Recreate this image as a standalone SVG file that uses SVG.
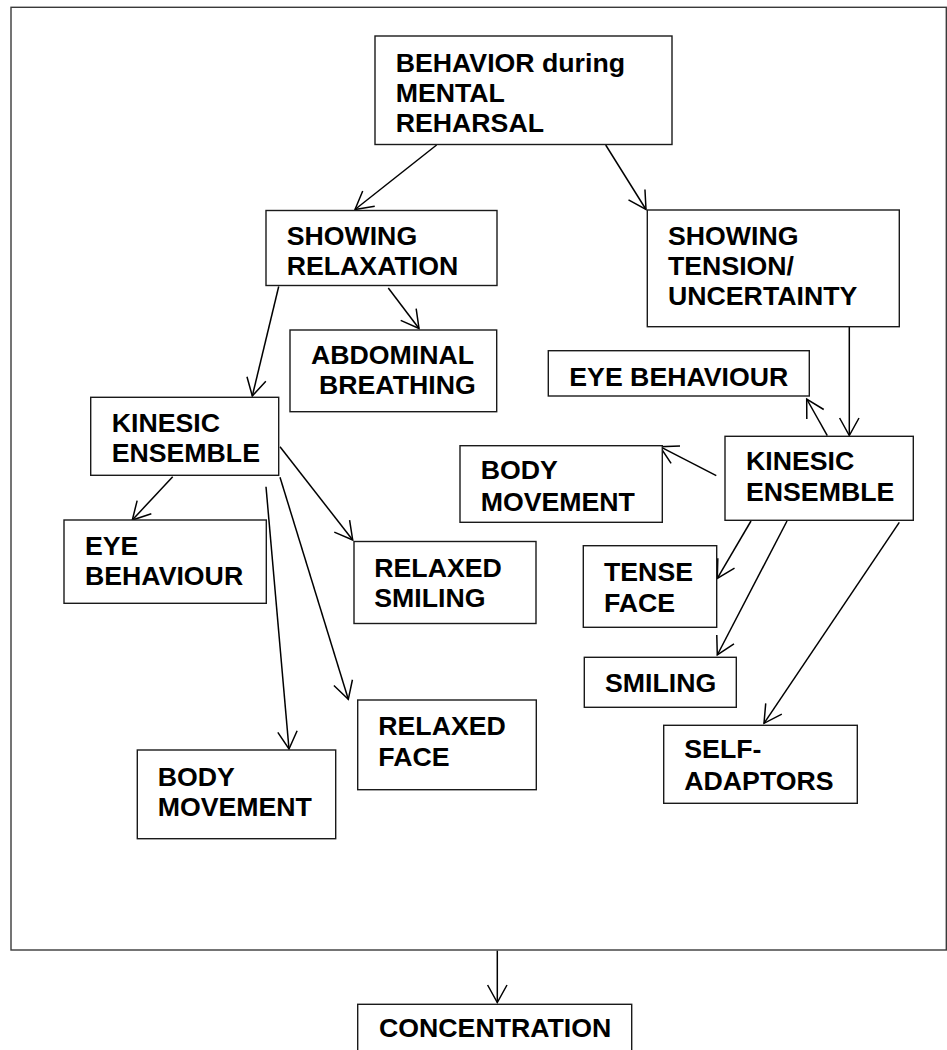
<svg xmlns="http://www.w3.org/2000/svg" width="947" height="1050" viewBox="0 0 947 1050">
  <style>
    .box { fill: #ffffff; stroke: #1a1a1a; stroke-width: 1.4; }
    .lbl { font-family: "Liberation Sans", Arial, sans-serif; font-weight: bold; font-size: 26.7px; fill: #000000; }
    .edge { fill: none; stroke: #000000; stroke-width: 1.5; marker-end: url(#vhead); }
    .frame { fill: none; stroke: #3a3a3a; stroke-width: 1.4; }
  </style>
  <defs>
    <marker id="vhead" markerUnits="userSpaceOnUse" orient="auto" markerWidth="40" markerHeight="40" viewBox="-20 -20 40 40" refX="0" refY="0" overflow="visible">
      <path d="M-17.5,-9.7 L0,0 L-17.5,9.7" fill="none" stroke="#000000" stroke-width="1.5"/>
    </marker>
  </defs>

  <rect width="947" height="1050" fill="#ffffff"/>

  <!-- outer frame -->
  <rect class="frame" x="11" y="7.3" width="935.3" height="942.7"/>

  <!-- connectors -->
  <g id="connectors">
    <line class="edge" x1="436.6" y1="145" x2="355" y2="209.5"/>
    <line class="edge" x1="605.7" y1="145" x2="646" y2="209.5"/>
    <line class="edge" x1="388.3" y1="288" x2="419" y2="328.5"/>
    <line class="edge" x1="278.7" y1="286.5" x2="252.3" y2="396"/>
    <line class="edge" x1="849.3" y1="327" x2="849.3" y2="435.5"/>
    <line class="edge" x1="827.3" y1="435.7" x2="806.7" y2="399"/>
    <line class="edge" x1="716.3" y1="475.7" x2="660" y2="446.7"/>
    <line class="edge" x1="751" y1="521" x2="717.3" y2="578.3"/>
    <line class="edge" x1="787" y1="521" x2="717.3" y2="655"/>
    <line class="edge" x1="899.3" y1="522.3" x2="764" y2="723.3"/>
    <line class="edge" x1="172.7" y1="476.7" x2="132.3" y2="520"/>
    <line class="edge" x1="266" y1="486.7" x2="289" y2="749"/>
    <line class="edge" x1="280" y1="477.3" x2="348.3" y2="699.3"/>
    <line class="edge" x1="280" y1="446.7" x2="352.7" y2="540"/>
    <line class="edge" x1="497.3" y1="950.7" x2="497.3" y2="1002.5"/>
  </g>

  <g id="behavior">
    <rect class="box" x="375" y="36" width="297" height="108.5"/>
    <text class="lbl" x="395.7" y="71.7">BEHAVIOR during</text>
    <text class="lbl" x="395.7" y="101.7">MENTAL</text>
    <text class="lbl" x="395.7" y="131.7">REHARSAL</text>
  </g>

  <g id="showing-relaxation">
    <rect class="box" x="266" y="210.5" width="231" height="75"/>
    <text class="lbl" x="286.7" y="245">SHOWING</text>
    <text class="lbl" x="286.7" y="275">RELAXATION</text>
  </g>

  <g id="showing-tension">
    <rect class="box" x="647.3" y="210" width="252" height="116.7"/>
    <text class="lbl" x="668" y="245">SHOWING</text>
    <text class="lbl" x="668" y="275">TENSION/</text>
    <text class="lbl" x="668" y="305">UNCERTAINTY</text>
  </g>

  <g id="abdominal-breathing">
    <rect class="box" x="290" y="330" width="206.7" height="81.7"/>
    <text class="lbl" x="311" y="364">ABDOMINAL</text>
    <text class="lbl" x="319" y="394">BREATHING</text>
  </g>

  <g id="eye-behaviour-tension">
    <rect class="box" x="548.3" y="350.7" width="261" height="45.3"/>
    <text class="lbl" x="569.3" y="386">EYE BEHAVIOUR</text>
  </g>

  <g id="kinesic-tension">
    <rect class="box" x="725" y="436.3" width="188.3" height="84"/>
    <text class="lbl" x="746" y="470">KINESIC</text>
    <text class="lbl" x="746" y="501">ENSEMBLE</text>
  </g>

  <g id="body-movement-tension">
    <rect class="box" x="460" y="445.7" width="202.3" height="76.6"/>
    <text class="lbl" x="480.7" y="479.3">BODY</text>
    <text class="lbl" x="480.7" y="510.7">MOVEMENT</text>
  </g>

  <g id="tense-face">
    <rect class="box" x="583.3" y="545.7" width="133.4" height="81.6"/>
    <text class="lbl" x="604" y="580.7">TENSE</text>
    <text class="lbl" x="604" y="611.7">FACE</text>
  </g>

  <g id="smiling">
    <rect class="box" x="584.3" y="657.3" width="152" height="50"/>
    <text class="lbl" x="605" y="691.7">SMILING</text>
  </g>

  <g id="self-adaptors">
    <rect class="box" x="663.7" y="725.3" width="193.6" height="78"/>
    <text class="lbl" x="684.3" y="758.3">SELF-</text>
    <text class="lbl" x="684.3" y="790">ADAPTORS</text>
  </g>

  <g id="kinesic-relaxation">
    <rect class="box" x="90.7" y="397.3" width="188" height="78"/>
    <text class="lbl" x="111.7" y="432.3">KINESIC</text>
    <text class="lbl" x="111.7" y="462.3">ENSEMBLE</text>
  </g>

  <g id="eye-behaviour-relaxation">
    <rect class="box" x="64" y="520" width="202.3" height="83.3"/>
    <text class="lbl" x="85" y="555">EYE</text>
    <text class="lbl" x="85" y="585">BEHAVIOUR</text>
  </g>

  <g id="relaxed-smiling">
    <rect class="box" x="354" y="541.5" width="182" height="82"/>
    <text class="lbl" x="374.3" y="576.7">RELAXED</text>
    <text class="lbl" x="374.3" y="606.7">SMILING</text>
  </g>

  <g id="relaxed-face">
    <rect class="box" x="357.7" y="700" width="178.6" height="89.7"/>
    <text class="lbl" x="378.3" y="735">RELAXED</text>
    <text class="lbl" x="378.3" y="765.7">FACE</text>
  </g>

  <g id="body-movement-relaxation">
    <rect class="box" x="137.3" y="750" width="198.4" height="88.7"/>
    <text class="lbl" x="157.7" y="785.7">BODY</text>
    <text class="lbl" x="157.7" y="815.7">MOVEMENT</text>
  </g>

  <g id="concentration">
    <rect class="box" x="357.7" y="1004.3" width="274" height="70"/>
    <text class="lbl" x="379" y="1037.3">CONCENTRATION</text>
  </g>
</svg>
